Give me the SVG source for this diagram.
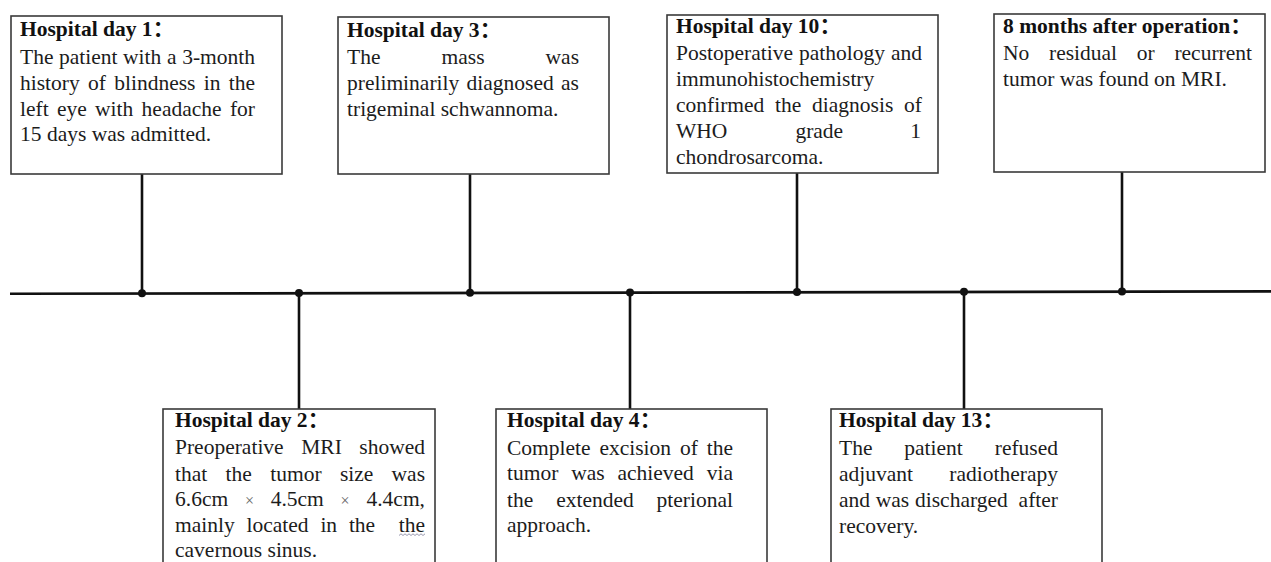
<svg xmlns="http://www.w3.org/2000/svg" width="1271" height="562" viewBox="0 0 1271 562">
<style>
.box{fill:#ffffff;stroke:#3a3a3a;stroke-width:1.6}
.t{font-family:"Liberation Serif","Times New Roman","DejaVu Serif",serif;font-size:21.5px;fill:#1c1c1c}
.h{font-weight:bold;fill:#111}
.c{font-family:"Noto Sans CJK SC",sans-serif}
.e{text-anchor:end}
.x{font-size:16px;fill:#666}
.ln{stroke:#111;stroke-width:2.6;fill:none}
.dot{fill:#111}
</style>
<rect width="1271" height="562" fill="#ffffff"/>
<g id="connectors">
  <line class="ln" x1="10" y1="293.8" x2="1271" y2="291.4"/>
  <line class="ln" x1="142" y1="174" x2="142" y2="293.5"/>
  <line class="ln" x1="470" y1="174" x2="470" y2="293"/>
  <line class="ln" x1="797" y1="173" x2="797" y2="292.3"/>
  <line class="ln" x1="1122" y1="172" x2="1122" y2="291.8"/>
  <line class="ln" x1="299" y1="293.3" x2="299" y2="409"/>
  <line class="ln" x1="630" y1="293" x2="630" y2="409"/>
  <line class="ln" x1="964" y1="292.3" x2="964" y2="409"/>
  <circle class="dot" cx="142" cy="293.3" r="4"/>
  <circle class="dot" cx="299" cy="293" r="4"/>
  <circle class="dot" cx="470" cy="292.7" r="4"/>
  <circle class="dot" cx="630" cy="292.4" r="4"/>
  <circle class="dot" cx="797" cy="292.1" r="4"/>
  <circle class="dot" cx="964" cy="291.8" r="4"/>
  <circle class="dot" cx="1122" cy="291.5" r="4"/>
</g>
<g id="day1">
  <rect class="box" x="11" y="16" width="271" height="158"/>
  <text class="t h" x="20" y="36">Hospital day 1<tspan class="c">：</tspan></text>
  <text class="t" y="64"><tspan x="20">The</tspan><tspan x="59">patient</tspan><tspan x="123.1">with</tspan><tspan x="166.9">a</tspan><tspan class="e" x="255">3-month</tspan></text>
  <text class="t" y="90"><tspan x="20">history</tspan><tspan x="88">of</tspan><tspan x="114.2">blindness</tspan><tspan x="203.7">in</tspan><tspan class="e" x="255">the</tspan></text>
  <text class="t" y="116"><tspan x="20">left</tspan><tspan x="57">eye</tspan><tspan x="95.1">with</tspan><tspan x="141.6">headache</tspan><tspan class="e" x="255">for</tspan></text>
  <text class="t" x="20" y="141">15 days was admitted.</text>
</g>
<g id="day3">
  <rect class="box" x="338" y="17" width="271" height="157"/>
  <text class="t h" x="347" y="37">Hospital day 3<tspan class="c">：</tspan></text>
  <text class="t" y="64"><tspan x="347">The</tspan><tspan x="441.5">mass</tspan><tspan class="e" x="579">was</tspan></text>
  <text class="t" y="90"><tspan x="347">preliminarily</tspan><tspan x="466.6">diagnosed</tspan><tspan class="e" x="579">as</tspan></text>
  <text class="t" x="347" y="116">trigeminal schwannoma.</text>
</g>
<g id="day10">
  <rect class="box" x="667" y="15" width="271" height="158"/>
  <text class="t h" x="676" y="33">Hospital day 10<tspan class="c">：</tspan></text>
  <text class="t" y="60"><tspan x="676">Postoperative</tspan><tspan x="799">pathology</tspan><tspan class="e" x="922">and</tspan></text>
  <text class="t" x="676" y="86">immunohistochemistry</text>
  <text class="t" y="112"><tspan x="676">confirmed</tspan><tspan x="775.1">the</tspan><tspan x="812.1">diagnosis</tspan><tspan class="e" x="922">of</tspan></text>
  <text class="t" y="138"><tspan x="676">WHO</tspan><tspan x="795.4">grade</tspan><tspan class="e" x="921">1</tspan></text>
  <text class="t" x="676" y="164">chondrosarcoma.</text>
</g>
<g id="month8">
  <rect class="box" x="994" y="14" width="271" height="158"/>
  <text class="t h" x="1003" y="33">8 months after operation<tspan class="c">：</tspan></text>
  <text class="t" y="60"><tspan x="1003">No</tspan><tspan x="1049">residual</tspan><tspan x="1136.8">or</tspan><tspan class="e" x="1252">recurrent</tspan></text>
  <text class="t" x="1003" y="86">tumor was found on MRI.</text>
</g>
<g id="day2">
  <rect class="box" x="163" y="409" width="272" height="170"/>
  <text class="t h" x="175" y="427">Hospital day 2<tspan class="c">：</tspan></text>
  <text class="t" y="454"><tspan x="175">Preoperative</tspan><tspan x="301.2">MRI</tspan><tspan class="e" x="425">showed</tspan></text>
  <text class="t" y="481"><tspan x="175">that</tspan><tspan x="225.6">the</tspan><tspan x="270.2">tumor</tspan><tspan x="339.9">size</tspan><tspan class="e" x="425">was</tspan></text>
  <text class="t" y="506"><tspan x="175">6.6cm</tspan><tspan class="x" x="244.9">×</tspan><tspan x="270.7">4.5cm</tspan><tspan class="x" x="340.6">×</tspan><tspan class="e" x="425">4.4cm,</tspan></text>
  <text class="t" y="532"><tspan x="175">mainly</tspan><tspan x="246.5">located</tspan><tspan x="320.4">in</tspan><tspan x="348.9">the</tspan><tspan class="e" x="425">the</tspan></text>
  <polyline points="399,535.5 401,533.8 403,535.5 405,533.8 407,535.5 409,533.8 411,535.5 413,533.8 415,535.5 417,533.8 419,535.5 421,533.8 423,535.5 425,533.8" fill="none" stroke="#8c8ca6" stroke-width="0.9"/>
  <text class="t" x="175" y="557">cavernous sinus.</text>
</g>
<g id="day4">
  <rect class="box" x="496" y="409" width="271" height="170"/>
  <text class="t h" x="507" y="427">Hospital day 4<tspan class="c">：</tspan></text>
  <text class="t" y="455"><tspan x="507">Complete</tspan><tspan x="599.4">excision</tspan><tspan x="679.9">of</tspan><tspan class="e" x="733">the</tspan></text>
  <text class="t" y="480"><tspan x="507">tumor</tspan><tspan x="571.2">was</tspan><tspan x="617.4">achieved</tspan><tspan class="e" x="733">via</tspan></text>
  <text class="t" y="507"><tspan x="507">the</tspan><tspan x="556.2">extended</tspan><tspan class="e" x="733">pterional</tspan></text>
  <text class="t" x="507" y="532">approach.</text>
</g>
<g id="day13">
  <rect class="box" x="831" y="409" width="271" height="170"/>
  <text class="t h" x="839" y="427">Hospital day 13<tspan class="c">：</tspan></text>
  <text class="t" y="455"><tspan x="839">The</tspan><tspan x="904.3">patient</tspan><tspan class="e" x="1058">refused</tspan></text>
  <text class="t" y="481"><tspan x="839">adjuvant</tspan><tspan class="e" x="1058">radiotherapy</tspan></text>
  <text class="t" y="507"><tspan x="839">and</tspan><tspan x="875.8">was</tspan><tspan x="915">discharged</tspan><tspan class="e" x="1058">after</tspan></text>
  <text class="t" x="839" y="533">recovery.</text>
</g>
</svg>
